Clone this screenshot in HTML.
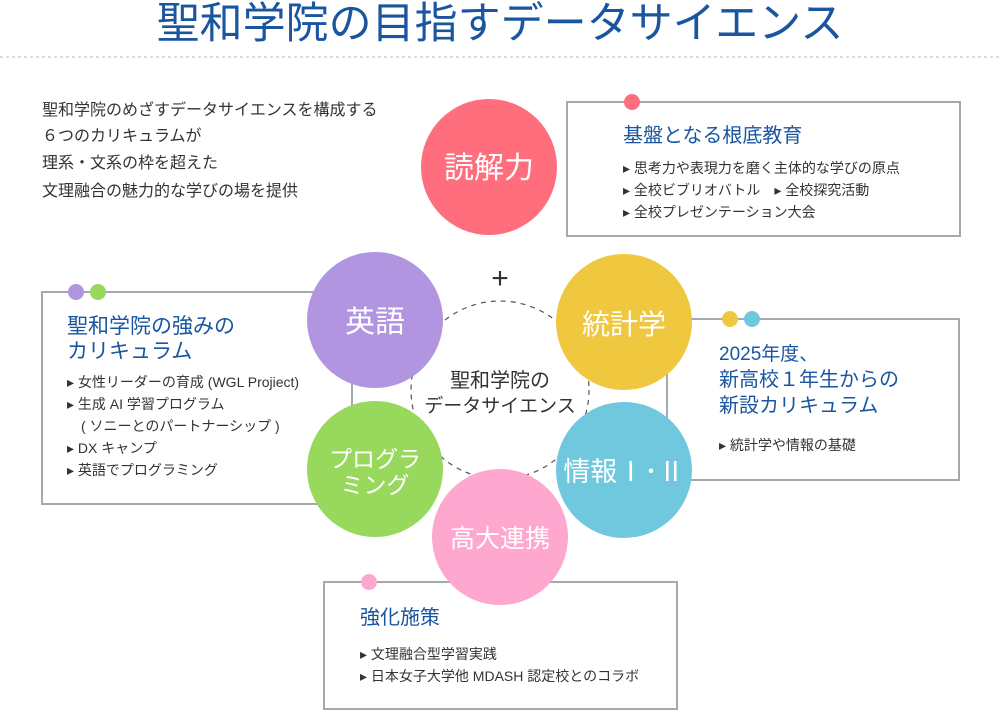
<!DOCTYPE html>
<html><head><meta charset="utf-8"><style>
html,body{margin:0;padding:0;background:#fff;}
svg{display:block;}
text{font-family:"Liberation Sans","Noto Sans CJK JP",sans-serif;}
</style></head><body>
<svg width="1000" height="712" viewBox="0 0 1000 712" xmlns="http://www.w3.org/2000/svg">
<text x="500" y="38" text-anchor="middle" font-size="43" fill="#1a56a0">聖和学院の目指すデータサイエンス</text>
<line x1="0" y1="57" x2="1000" y2="57" stroke="#bbb" stroke-width="1" stroke-dasharray="3,3"/>

<g font-size="16" fill="#333">
<text x="42" y="115">聖和学院のめざすデータサイエンスを構成する</text>
<text x="42" y="141">６つのカリキュラムが</text>
<text x="42" y="168">理系・文系の枠を超えた</text>
<text x="42" y="196">文理融合の魅力的な学びの場を提供</text>
</g>

<g fill="#fff" stroke="#a3a9b0" stroke-width="2">
<rect x="567" y="102" width="393" height="134"/>
<rect x="42" y="292" width="310" height="212"/>
<rect x="667" y="319" width="292" height="161"/>
<rect x="324" y="582" width="353" height="127"/>
</g>

<circle cx="500" cy="390" r="89" fill="none" stroke="#555" stroke-width="1.2" stroke-dasharray="5,5"/>
<text x="500" y="288" text-anchor="middle" font-size="30" fill="#333">+</text>
<text x="500" y="387" text-anchor="middle" font-size="20" fill="#333">聖和学院の</text>
<text x="500" y="412" text-anchor="middle" font-size="19" fill="#333">データサイエンス</text>

<circle cx="632" cy="102" r="8" fill="#ff6e7c"/>
<circle cx="76" cy="292" r="8" fill="#b195e0"/>
<circle cx="98" cy="292" r="8" fill="#97d85d"/>
<circle cx="730" cy="319" r="8" fill="#f0c840"/>
<circle cx="752" cy="319" r="8" fill="#6fc8de"/>
<circle cx="369" cy="582" r="8" fill="#ffa8cf"/>

<circle cx="489" cy="167" r="68" fill="#ff6e7c"/>
<circle cx="375" cy="320" r="68" fill="#b195e0"/>
<circle cx="624" cy="322" r="68" fill="#f0c840"/>
<circle cx="375" cy="469" r="68" fill="#97d85d"/>
<circle cx="624" cy="470" r="68" fill="#6fc8de"/>
<circle cx="500" cy="537" r="68" fill="#ffa8cf"/>
<g fill="#fff" text-anchor="middle">
<text x="489" y="178" font-size="30">読解力</text>
<text x="375" y="332" font-size="30">英語</text>
<text x="624" y="334" font-size="28">統計学</text>
<text x="375" y="467" font-size="23">プログラ</text>
<text x="375" y="493" font-size="23">ミング</text>
<text x="624" y="481" font-size="27">情報Ⅰ･Ⅱ</text>
<text x="500" y="547" font-size="25">高大連携</text>
</g>

<g fill="#1a56a0">
<text x="623" y="142" font-size="20">基盤となる根底教育</text>
<text x="67" y="333" font-size="21">聖和学院の強みの</text>
<text x="67" y="358" font-size="21">カリキュラム</text>
<text x="719" y="360" font-size="19">2025年度、</text>
<text x="719" y="386" font-size="20">新高校１年生からの</text>
<text x="719" y="412" font-size="20">新設カリキュラム</text>
<text x="360" y="624" font-size="20">強化施策</text>
</g>
<g fill="#333" font-size="14">
<text x="623" y="173">▸ 思考力や表現力を磨く主体的な学びの原点</text>
<text x="623" y="195">▸ 全校ビブリオバトル　▸ 全校探究活動</text>
<text x="623" y="217">▸ 全校プレゼンテーション大会</text>
<text x="67" y="387">▸ 女性リーダーの育成 (WGL Projiect)</text>
<text x="67" y="409">▸ 生成 AI 学習プログラム</text>
<text x="67" y="431">　( ソニーとのパートナーシップ )</text>
<text x="67" y="453">▸ DX キャンプ</text>
<text x="67" y="475">▸ 英語でプログラミング</text>
<text x="719" y="450">▸ 統計学や情報の基礎</text>
<text x="360" y="659">▸ 文理融合型学習実践</text>
<text x="360" y="681">▸ 日本女子大学他 MDASH 認定校とのコラボ</text>
</g>
</svg>
</body></html>
